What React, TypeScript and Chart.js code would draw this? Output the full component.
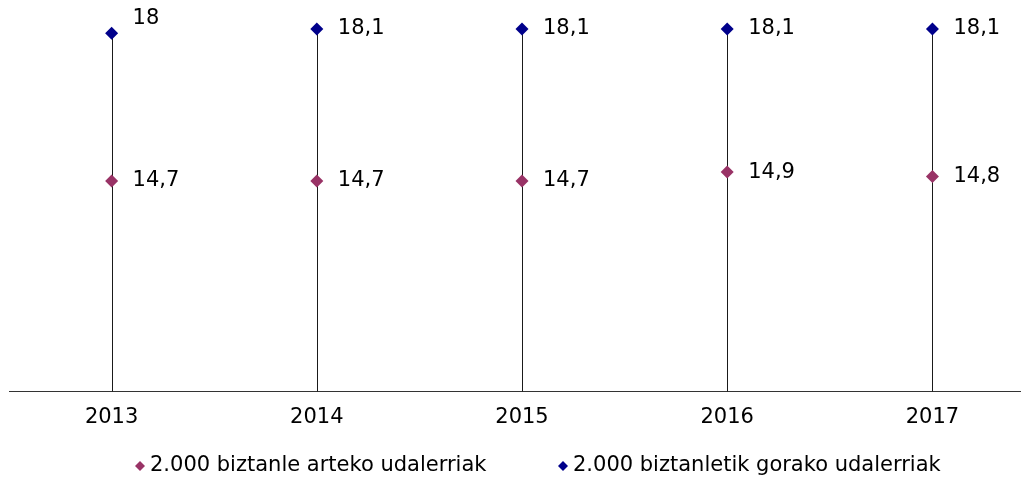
import React, { useEffect, useRef } from "react";
import { Chart, registerables } from "chart.js";

Chart.register(...registerables);

const years = [2013, 2014, 2015, 2016, 2017];
const smallTowns = [14.7, 14.7, 14.7, 14.9, 14.8];
const largeTowns = [18, 18.1, 18.1, 18.1, 18.1];
const seriesNames = [
  "2.000 biztanle arteko udalerriak",
  "2.000 biztanletik gorako udalerriak",
];
const seriesColors = ["#993366", "#00008B"];

const FONT = "'DejaVu Sans', sans-serif";
const fmt = (v: number) => String(v).replace(".", ",");

const dropLines = {
  id: "dropLines",
  beforeDatasetsDraw(chart: any) {
    const { ctx, chartArea, scales } = chart;
    ctx.save();
    ctx.strokeStyle = "#1a1a1a";
    ctx.lineWidth = 1;
    // category axis line, running to the right edge
    const yAxis = Math.round(chartArea.bottom) + 0.5;
    ctx.strokeStyle = "#333";
    ctx.beginPath();
    ctx.moveTo(chartArea.left, yAxis);
    ctx.lineTo(chart.width, yAxis);
    ctx.stroke();
    ctx.strokeStyle = "#1a1a1a";
    years.forEach((yr, i) => {
      const x = Math.round(scales.x.getPixelForValue(yr)) + 0.5;
      const top = scales.y.getPixelForValue(Math.max(smallTowns[i], largeTowns[i]));
      ctx.beginPath();
      ctx.moveTo(x, yAxis);
      ctx.lineTo(x, top);
      ctx.stroke();
    });
    ctx.restore();
  },
};

const valueLabels = {
  id: "valueLabels",
  afterDatasetsDraw(chart: any) {
    const { ctx } = chart;
    ctx.save();
    ctx.font = `21px ${FONT}`;
    ctx.fillStyle = "#000";
    ctx.textBaseline = "middle";
    ctx.textAlign = "left";
    chart.data.datasets.forEach((ds: any, di: number) => {
      const meta = chart.getDatasetMeta(di);
      meta.data.forEach((pt: any, i: number) => {
        const v = ds.data[i].y;
        // the first upper label sits a bit higher in the original
        const lift = di === 1 && i === 0 ? 15 : 0;
        ctx.fillText(fmt(v), pt.x + 21, pt.y - lift);
      });
    });
    ctx.restore();
  },
};

const customLegend = {
  id: "customLegend",
  afterDraw(chart: any) {
    const { ctx } = chart;
    const y = 466;
    const markerX = [140, 563];
    ctx.save();
    ctx.font = `21px ${FONT}`;
    ctx.textBaseline = "middle";
    ctx.textAlign = "left";
    seriesNames.forEach((name, i) => {
      const cx = markerX[i];
      const r = 5;
      ctx.fillStyle = seriesColors[i];
      ctx.beginPath();
      ctx.moveTo(cx, y - r);
      ctx.lineTo(cx + r, y);
      ctx.lineTo(cx, y + r);
      ctx.lineTo(cx - r, y);
      ctx.closePath();
      ctx.fill();
      ctx.fillStyle = "#000";
      ctx.fillText(name, cx + 10, y);
    });
    ctx.restore();
  },
};

export default function App() {
  const ref = useRef<HTMLCanvasElement | null>(null);
  useEffect(() => {
    document.body.style.margin = "0";
    if (!ref.current) return;
    const chart = new Chart(ref.current, {
      type: "scatter",
      data: {
        datasets: [
          {
            label: seriesNames[0],
            data: years.map((x, i) => ({ x, y: smallTowns[i] })),
            backgroundColor: seriesColors[0],
            borderColor: seriesColors[0],
            pointStyle: "rectRot",
            pointRadius: 6.5,
            pointBorderWidth: 0,
            showLine: false,
          },
          {
            label: seriesNames[1],
            data: years.map((x, i) => ({ x, y: largeTowns[i] })),
            backgroundColor: seriesColors[1],
            borderColor: seriesColors[1],
            pointStyle: "rectRot",
            pointRadius: 6.5,
            pointBorderWidth: 0,
            showLine: false,
          },
        ],
      },
      options: {
        animation: false,
        responsive: true,
        maintainAspectRatio: false,
        layout: { padding: { left: 9, right: 0, top: 11, bottom: 35.5 } },
        plugins: {
          legend: { display: false },
          tooltip: { enabled: false },
        },
        scales: {
          x: {
            type: "linear",
            min: 2012.5,
            max: 2017.4,
            afterBuildTicks: (axis: any) => {
              axis.ticks = years.map((v) => ({ value: v }));
            },
            grid: { display: false, drawTicks: false, tickLength: 0 },
            border: { display: false },
            ticks: {
              padding: 14,
              color: "#000",
              font: { family: FONT, size: 21 },
              callback: (v: any) => String(v),
              maxRotation: 0,
              autoSkip: false,
            },
          },
          y: {
            display: false,
            min: 10,
            max: 18.5,
          },
        },
      },
      plugins: [dropLines, valueLabels, customLegend],
    });
    return () => chart.destroy();
  }, []);
  return (
    <div style={{ width: 1021, height: 480, position: "relative" }}>
      <canvas ref={ref} />
    </div>
  );
}
